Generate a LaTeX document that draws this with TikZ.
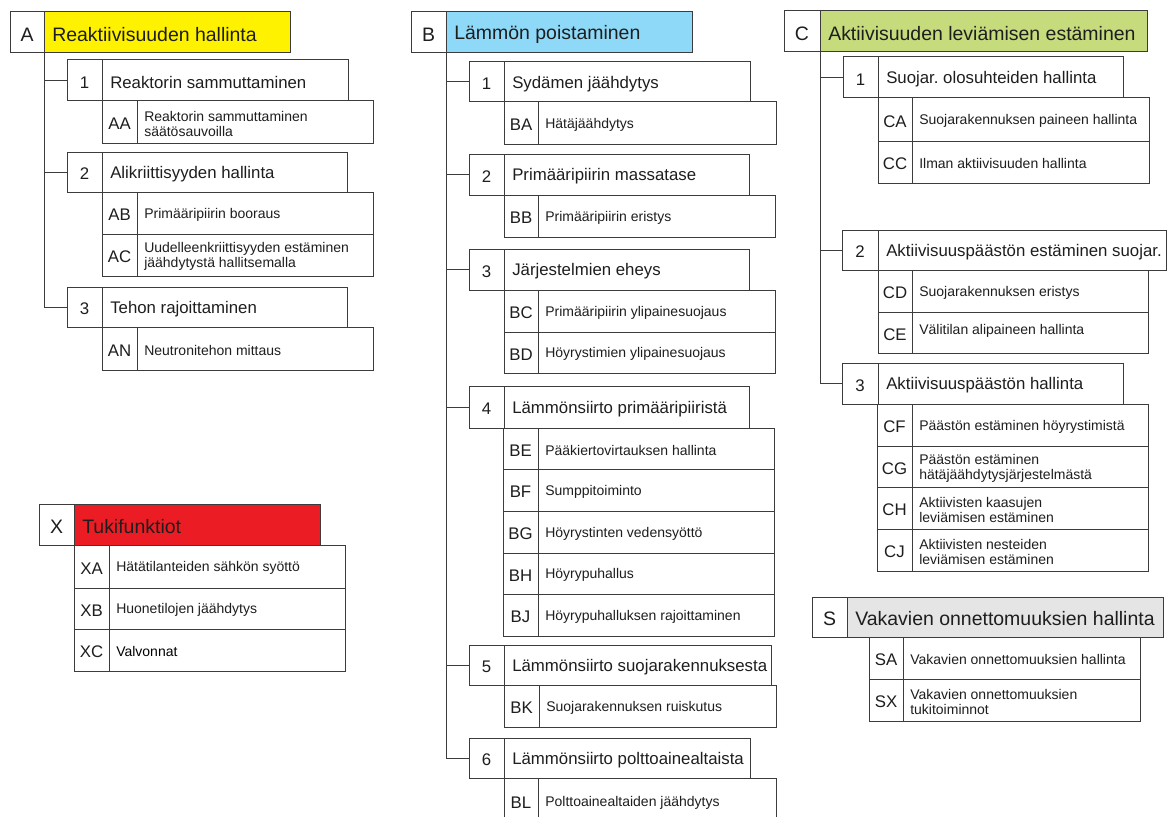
\documentclass[tikz,border=0pt]{standalone}
\usepackage{fontspec}
\setmainfont{Liberation Sans}
\frenchspacing
\definecolor{cyel}{RGB}{255,242,0}
\definecolor{cblue}{RGB}{142,216,248}
\definecolor{cgreen}{RGB}{197,219,124}
\definecolor{cred}{RGB}{236,28,36}
\definecolor{cgray}{RGB}{229,229,229}
\definecolor{linec}{RGB}{60,60,60}
\definecolor{textc}{RGB}{30,30,30}
\tikzset{
 cell/.style={draw=linec, line width=0.75pt, fill=white, inner sep=0pt, outer sep=0pt, text=textc},
 conn/.style={draw=linec, line width=0.75pt},
 fhead/.style={font=\fontsize{14.6}{16}\selectfont},
 fsub/.style={font=\fontsize{12.6}{14}\selectfont},
 fdesc/.style={font=\fontsize{10.5}{11.3}\selectfont},
 ltext/.style={anchor=west, inner sep=0pt, align=left, text=textc},
 ctext/.style={inner sep=0pt, text=textc},
}
\newcommand\Rect[7]{%
 \pgfmathsetlengthmacro\rw{(#4-#2)*0.75pt}%
 \pgfmathsetlengthmacro\rh{(#5-#3)*0.75pt}%
 \node[cell,#6,minimum width=\rw,minimum height=\rh] (#1) at ({(#2+#4)/2},{(#3+#5)/2}) {};
 \node[ctext,#6,draw=none,fill=none] (#1-x) at ([yshift=-1.5pt]#1.center) {#7};}
\newcommand\Head[9]{%
 \Rect{#1-l}{#2}{#5}{#3}{#6}{fhead}{#7}%
 \Rect{#1}{#3}{#5}{#4}{#6}{fill=#9}{}%
 \node[ltext,fhead] (#1-t) at ([xshift=6pt,yshift=-1.5pt]#1.west) {#8};}
\newcommand\Sub[8]{%
 \Rect{#1-n}{#2}{#5}{#3}{#6}{fsub}{#7}%
 \Rect{#1}{#3}{#5}{#4}{#6}{}{}%
 \node[ltext,fsub] (#1-t) at ([xshift=6pt,yshift=-1.5pt]#1.west) {#8};}
\newcommand\Item[8]{%
 \Rect{#1-c}{#2}{#5}{#3}{#6}{fsub}{#7}%
 \Rect{#1}{#3}{#5}{#4}{#6}{}{}%
 \node[ltext,fdesc] (#1-t) at ([xshift=5.25pt,yshift=-1.2pt]#1.west) {#8};}
\begin{document}
\begin{tikzpicture}[x=0.75pt,y=-0.75pt]
\useasboundingbox (0,0) rectangle (1167,817);
\clip (0,0) rectangle (1167,817);
\fill[white] (0,0) rectangle (1167,817);
% ---------- A ----------
\Head{A}{10}{44}{290}{12}{53}{A}{Reaktiivisuuden hallinta}{cyel}
\Sub{A1}{67}{102}{348}{60}{101}{1}{Reaktorin sammuttaminen}
\Item{AA}{102}{137}{373}{101}{143}{AA}{Reaktorin sammuttaminen\\säätösauvoilla}
\Sub{A2}{67}{102}{347}{152}{192}{2}{Alikriittisyyden hallinta}
\Item{AB}{102}{137}{373}{192}{234}{AB}{Primääripiirin booraus}
\Item{AC}{102}{137}{373}{234}{276}{AC}{Uudelleenkriittisyyden estäminen\\jäähdytystä hallitsemalla}
\Sub{A3}{67}{102}{347}{287}{327}{3}{Tehon rajoittaminen}
\Item{AN}{102}{137}{373}{327}{370}{AN}{Neutronitehon mittaus}
\draw[conn] (A-l.south east) |- (A3-n.west);
\draw[conn] (A1-n.west) -- (A1-n.west -| A-l.south east);
\draw[conn] (A2-n.west) -- (A2-n.west -| A-l.south east);
% ---------- B ----------
\Head{B}{411}{446}{692}{12}{53}{B}{Lämmön poistaminen}{cblue}
\Sub{B1}{469}{504}{750}{62}{102}{1}{Sydämen jäähdytys}
\Item{BA}{504}{538}{776}{102}{144}{BA}{Hätäjäähdytys}
\Sub{B2}{469}{504}{749}{154}{195}{2}{Primääripiirin massatase}
\Item{BB}{504}{538}{775}{195}{237}{BB}{Primääripiirin eristys}
\Sub{B3}{469}{504}{749}{249}{290}{3}{Järjestelmien eheys}
\Item{BC}{504}{538}{775}{290}{332}{BC}{Primääripiirin ylipainesuojaus}
\Item{BD}{504}{538}{775}{332}{373}{BD}{Höyrystimien ylipainesuojaus}
\Sub{B4}{469}{504}{749}{386}{428}{4}{Lämmönsiirto primääripiiristä}
\Item{BE}{503}{538}{774}{428}{469}{BE}{Pääkiertovirtauksen hallinta}
\Item{BF}{503}{538}{774}{469}{511}{BF}{Sumppitoiminto}
\Item{BG}{503}{538}{774}{511}{553}{BG}{Höyrystinten vedensyöttö}
\Item{BH}{503}{538}{774}{553}{594}{BH}{Höyrypuhallus}
\Item{BJ}{503}{538}{774}{594}{636}{BJ}{Höyrypuhalluksen rajoittaminen}
\Sub{B5}{469}{504}{771}{645}{685}{5}{Lämmönsiirto suojarakennuksesta}
\Item{BK}{504}{539}{776}{685}{727}{BK}{Suojarakennuksen ruiskutus}
\Sub{B6}{469}{504}{750}{738}{778}{6}{Lämmönsiirto polttoainealtaista}
\Item{BL}{504}{538}{776}{778}{824}{BL}{Polttoainealtaiden jäähdytys}
\draw[conn] (B-l.south east) |- (B6-n.west);
\foreach \k in {1,...,5}{\draw[conn] (B\k-n.west) -- (B\k-n.west -| B-l.south east);}
% ---------- C ----------
\Head{C}{784}{820}{1147}{11}{52}{C}{Aktiivisuuden leviämisen estäminen}{cgreen}
\Sub{C1}{843}{878}{1123}{57}{98}{1}{Suojar. olosuhteiden hallinta}
\Item{CA}{878}{912}{1149}{98}{141}{CA}{Suojarakennuksen paineen hallinta}
\Item{CC}{878}{912}{1149}{141}{183}{CC}{Ilman aktiivisuuden hallinta}
\Sub{C2}{842}{878}{1166}{230}{270}{2}{Aktiivisuuspäästön estäminen suojar.}
\Item{CD}{878}{912}{1148}{270}{312}{CD}{Suojarakennuksen eristys}
\Item{CE}{878}{912}{1148}{312}{353}{CE}{\raisebox{7pt}{Välitilan alipaineen hallinta}}
\Sub{C3}{842}{878}{1123}{363}{404}{3}{Aktiivisuuspäästön hallinta}
\Item{CF}{877}{912}{1148}{404}{446}{CF}{Päästön estäminen höyrystimistä}
\Item{CG}{877}{912}{1148}{446}{487}{CG}{Päästön estäminen\\hätäjäähdytysjärjestelmästä}
\Item{CH}{877}{912}{1148}{487}{529}{CH}{Aktiivisten kaasujen\\leviämisen estäminen}
\Item{CJ}{877}{912}{1148}{529}{571}{CJ}{Aktiivisten nesteiden\\leviämisen estäminen}
\draw[conn] (C-l.south east) |- (C3-n.west);
\draw[conn] (C1-n.west) -- (C1-n.west -| C-l.south east);
\draw[conn] (C2-n.west) -- (C2-n.west -| C-l.south east);
% ---------- S ----------
\Head{S}{812}{847}{1163}{597}{637}{S}{Vakavien onnettomuuksien hallinta}{cgray}
\Item{SA}{869}{903}{1140}{637}{679}{SA}{Vakavien onnettomuuksien hallinta}
\Item{SX}{869}{903}{1140}{679}{721}{SX}{Vakavien onnettomuuksien\\tukitoiminnot}
% ---------- X ----------
\Head{X}{39}{74}{320}{504}{545}{X}{Tukifunktiot}{cred}
\Item{XA}{74}{109}{345}{545}{588}{XA}{Hätätilanteiden sähkön syöttö}
\Item{XB}{74}{109}{345}{588}{629}{XB}{Huonetilojen jäähdytys}
\Item{XC}{74}{109}{345}{629}{671}{XC}{\textcolor{black}{Valvonnat}}
\end{tikzpicture}
\end{document}
